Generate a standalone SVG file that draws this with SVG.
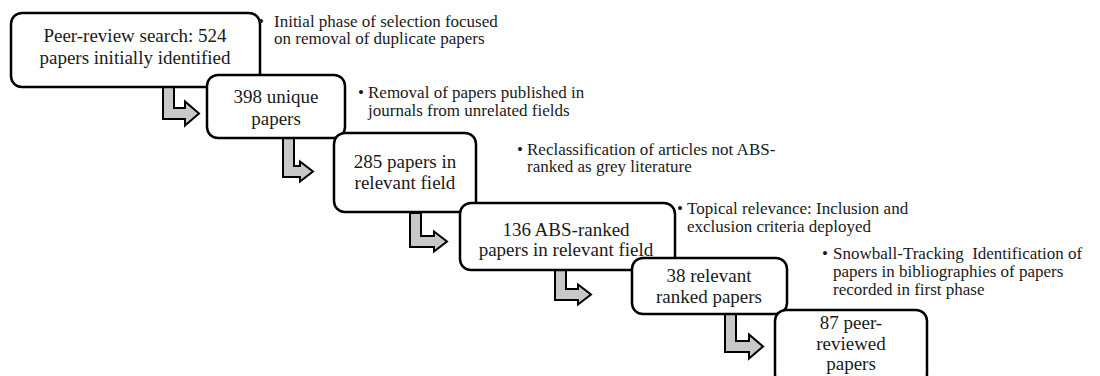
<svg xmlns="http://www.w3.org/2000/svg" width="1100" height="376" viewBox="0 0 1100 376">
<style>
.box{fill:#fff;stroke:#000;stroke-width:2.5}
.arr{fill:#c8c8c8;stroke:#000;stroke-width:2;stroke-linejoin:miter}
.t{font-family:"Liberation Serif","Times New Roman",serif;font-size:19px;fill:#1a1a1a;text-anchor:middle}
.b{font-family:"Liberation Serif","Times New Roman",serif;font-size:17px;fill:#1a1a1a}
</style>
<rect width="1100" height="376" fill="#fff"/>
<g id="connectors">
<path class="arr" d="M163,87 L174,87 L174,108 L185,108 L185,101.5 L199,113.5 L185,125.5 L185,119 L163,119 Z"/>
<path class="arr" d="M283,138 L294,138 L294,166 L300,166 L300,161.5 L313,171.5 L300,181.5 L300,177 L283,177 Z"/>
<path class="arr" d="M410,213 L421,213 L421,236 L434,236 L434,231.5 L447,241.5 L434,251.5 L434,247 L410,247 Z"/>
<path class="arr" d="M555,270 L566,270 L566,289 L578,289 L578,284.5 L591,294.5 L578,304.5 L578,300 L555,300 Z"/>
<path class="arr" d="M725,314 L736,314 L736,341 L749,341 L749,334.5 L763,346.5 L749,358.5 L749,352 L725,352 Z"/>
</g>
<g id="n1">
<rect class="box" x="11" y="13" width="249" height="74" rx="11"/>
<text class="t" x="135" y="42">Peer-review search: 524</text>
<text class="t" x="135" y="64">papers initially identified</text>
</g>
<g id="n1note">
<text class="b" x="258" y="27">•</text>
<text class="b" x="274" y="27">Initial phase of selection focused</text>
<text class="b" x="274" y="44">on removal of duplicate papers</text>
</g>
<g id="n2">
<rect class="box" x="207" y="75" width="138" height="63" rx="11"/>
<text class="t" x="276" y="103">398 unique</text>
<text class="t" x="276" y="125">papers</text>
</g>
<g id="n2note">
<text class="b" x="358" y="98">•</text>
<text class="b" x="368" y="98">Removal of papers published in</text>
<text class="b" x="368" y="116">journals from unrelated fields</text>
</g>
<g id="n3">
<rect class="box" x="334" y="133" width="142" height="79" rx="11"/>
<text class="t" x="405" y="168">285 papers in</text>
<text class="t" x="405" y="189">relevant field</text>
</g>
<g id="n3note">
<text class="b" x="517" y="155">•</text>
<text class="b" x="527" y="155">Reclassification of articles not ABS-</text>
<text class="b" x="527" y="172">ranked as grey literature</text>
</g>
<g id="n4">
<rect class="box" x="460" y="203" width="215" height="67" rx="11"/>
<text class="t" x="566" y="236">136 ABS-ranked</text>
<text class="t" x="566" y="256">papers in relevant field</text>
</g>
<g id="n4note">
<text class="b" x="677" y="214">•</text>
<text class="b" x="687" y="214">Topical relevance: Inclusion and</text>
<text class="b" x="687" y="232">exclusion criteria deployed</text>
</g>
<g id="n5">
<rect class="box" x="632" y="258" width="155" height="56" rx="11"/>
<text class="t" x="709" y="282">38 relevant</text>
<text class="t" x="709" y="303">ranked papers</text>
</g>
<g id="n5note">
<text class="b" x="822" y="259">•</text>
<text class="b" x="833" y="259" xml:space="preserve">Snowball-Tracking  Identification of</text>
<text class="b" x="833" y="277">papers in bibliographies of papers</text>
<text class="b" x="833" y="295">recorded in first phase</text>
</g>
<g id="n6">
<rect class="box" x="775" y="310" width="152" height="75" rx="11"/>
<text class="t" x="851" y="329">87 peer-</text>
<text class="t" x="851" y="350">reviewed</text>
<text class="t" x="851" y="370">papers</text>
</g>
</svg>
